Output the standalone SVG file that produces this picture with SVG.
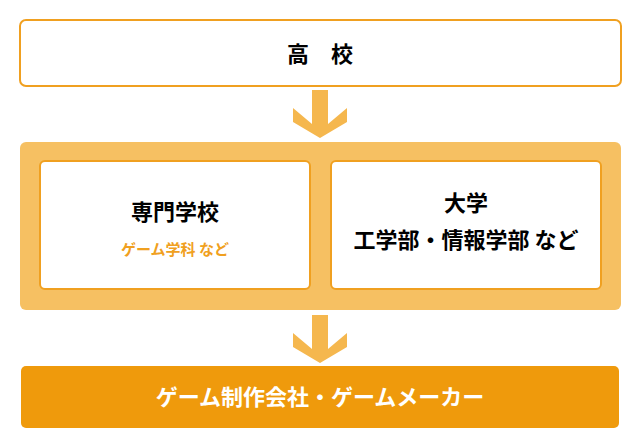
<svg xmlns="http://www.w3.org/2000/svg" width="640" height="445" viewBox="0 0 640 445">
<style>
.t{font-family:"Noto Sans CJK JP",sans-serif;font-weight:bold;text-anchor:middle}
.box{fill:#fff;stroke:#f0a020;stroke-width:2}
.arr{fill:#f5b74e}
</style>
<rect width="640" height="445" fill="#fff"/>
<g id="koukou"><rect class="box" x="20" y="20" width="601" height="66" rx="6"/><text class="t" x="320" y="62" font-size="22">高　校</text></g>
<g id="connectors">
<polygon class="arr" points="312,90 328,90 328,124 347,108 347,122 320,138 293,122 293,108 312,124"/>
<polygon class="arr" points="312,315 328,315 328,349 347,333 347,347 320,363 293,347 293,333 312,349"/>
</g>
<g id="middle"><rect x="20" y="142" width="601" height="168" rx="6" fill="#f6c062"/></g>
<g id="senmon"><rect class="box" x="40" y="161" width="270" height="128" rx="5"/><text class="t" x="175" y="220" font-size="22">専門学校</text><text class="t" x="175" y="255" font-size="15" fill="#f0a020">ゲーム学科 など</text></g>
<g id="daigaku"><rect class="box" x="331" y="161" width="270" height="128" rx="5"/><text class="t" x="466" y="211" font-size="22">大学</text><text class="t" x="466" y="248" font-size="22">工学部・情報学部 など</text></g>
<g id="maker"><rect x="21" y="366" width="598" height="62" rx="5" fill="#ef9a0c"/><text class="t" x="320" y="405" font-size="22" fill="#fff">ゲーム制作会社・ゲームメーカー</text></g>
</svg>
